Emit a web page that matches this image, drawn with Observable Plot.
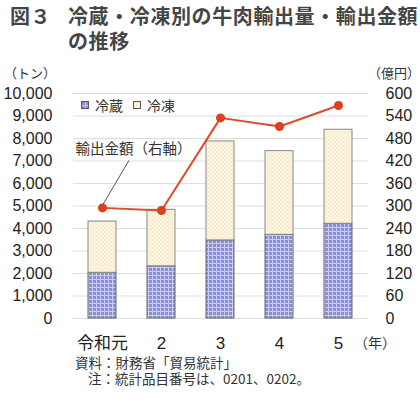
<!DOCTYPE html>
<html><head><meta charset="utf-8">
<script src="https://cdn.jsdelivr.net/npm/d3@7"></script>
<script src="https://cdn.jsdelivr.net/npm/@observablehq/plot@0.6"></script>
<style>
body{margin:0;width:420px;height:399px;overflow:hidden;background:#fff;position:relative;font-family:"Noto Sans CJK JP",sans-serif;color:#333}
.abs{position:absolute;white-space:nowrap}
.tl{font-size:20px;font-weight:bold;line-height:25px;height:25px;color:#454545;letter-spacing:0.6px}
#chart{position:absolute;left:0;top:55px}
.unit{font-size:13px;line-height:14px;color:#333}
#legend{left:81px;top:96px;font-size:14px;line-height:18px;color:#333;display:flex;align-items:center}
#legend svg{margin-right:6px}
.cap{font-size:13.5px;line-height:15px;height:15px;color:#333}
</style></head>
<body>
<svg width="0" height="0" style="position:absolute">
  <defs>
    <pattern id="pChill" width="4" height="4" patternUnits="userSpaceOnUse">
      <rect width="4" height="4" fill="#8b8fd7"/>
      <path d="M0 0.5H4M0.5 0V4" stroke="#c9cbf1" stroke-width="1"/>
    </pattern>
    <pattern id="pFroz" width="4" height="4" patternUnits="userSpaceOnUse">
      <rect width="4" height="4" fill="#fdf5de"/>
      <circle cx="1" cy="1" r="0.6" fill="#e6d2a4"/>
      <circle cx="3" cy="3" r="0.6" fill="#e6d2a4"/>
    </pattern>
  </defs>
</svg>
<div class="abs tl" style="left:10px;top:3px">図３</div>
<div class="abs tl" style="left:68px;top:3px">冷蔵・冷凍別の牛肉輸出量・輸出金額</div>
<div class="abs tl" style="left:68px;top:28px">の推移</div>
<div class="abs unit" style="left:4px;top:66px">（トン）</div>
<div class="abs unit" style="left:368px;top:66px">（億円）</div>
<div id="chart"></div>
<div class="abs unit" style="left:354px;top:335px;font-size:14px">（年）</div>
<div id="legend" class="abs">
  <svg width="8" height="8"><rect x="0.5" y="0.5" width="7" height="7" fill="url(#pChill)" stroke="#555"/></svg><span style="margin-right:10px">冷蔵</span>
  <svg width="8" height="8"><rect x="0.5" y="0.5" width="7" height="7" fill="url(#pFroz)" stroke="#555"/></svg><span>冷凍</span>
</div>
<div class="abs cap" style="left:75px;top:355px">資料：財務省「貿易統計」</div>
<div class="abs cap" style="left:88px;top:371px">注：統計品目番号は、0201、0202。</div>
<script>
const years = ["令和元", "2", "3", "4", "5"];
const chilled = [2030, 2320, 3470, 3720, 4210];   // 冷蔵 (トン)
const frozen = [2280, 2510, 4400, 3720, 4180];    // 冷凍 (トン)
const exportValue = [295, 288, 535, 512, 568];    // 輸出金額 (億円)
const leftTicks = [0, 1000, 2000, 3000, 4000, 5000, 6000, 7000, 8000, 9000, 10000];
const rightTicks = [0, 60, 120, 180, 240, 300, 360, 420, 480, 540, 600];
const annotation = "輸出金額（右軸）";

const k = leftTicks[leftTicks.length - 1] / rightTicks[rightTicks.length - 1];
const rows = years.map((year, i) => ({
  year, chilled: chilled[i], total: chilled[i] + frozen[i], value: exportValue[i]
}));

const plot = Plot.plot({
  width: 420, height: 300,
  marginLeft: 73, marginRight: 52, marginTop: 38, marginBottom: 37,
  style: {fontFamily: '"Liberation Sans", Arial, "Noto Sans CJK JP", sans-serif', fontSize: "16px", color: "#222", background: "transparent"},
  x: {type: "band", domain: years, paddingInner: 0.52, paddingOuter: 0.26},
  y: {domain: [0, 10000]},
  marks: [
    Plot.gridY(leftTicks, {stroke: "#dedede", strokeOpacity: 1}),
    Plot.axisY(leftTicks, {anchor: "left", tickSize: 0, tickPadding: 21, tickFormat: d3.format(","), label: null, fontSize: 16}),
    Plot.axisY(rightTicks.map(v => v * k), {anchor: "right", tickSize: 0, tickPadding: 17, tickFormat: d => String(Math.round(d / k)), label: null, fontSize: 16}),
    Plot.axisX({tickSize: 0, tickPadding: 18, label: null, fontSize: 17, fontFamily: '"Liberation Sans", Arial, "Noto Sans CJK JP", sans-serif'}),
    Plot.barY(rows, {x: "year", y1: 0, y2: "chilled", fill: "url(#pChill)", stroke: "#666", strokeWidth: 1}),
    Plot.barY(rows, {x: "year", y1: "chilled", y2: "total", fill: "url(#pFroz)", stroke: "#888", strokeWidth: 1}),
    Plot.line(rows, {x: "year", y: d => d.value * k, stroke: "#dc4b2a", strokeWidth: 2}),
    Plot.dot(rows, {x: "year", y: d => d.value * k, r: 4.5, fill: "#dc401c", stroke: "none"}),
    Plot.text([rows[0]], {x: "year", y: d => d.value * k, text: () => annotation, dx: 31, dy: -59, fontSize: 14.5, fontFamily: '"Noto Sans CJK JP", sans-serif', fill: "#333"})
  ]
});
document.getElementById("chart").appendChild(plot);

// leader line from annotation to first point
const xs = plot.scale("x"), ys = plot.scale("y");
const px = xs.apply(rows[0].year) + xs.bandwidth / 2;
const py = ys.apply(rows[0].value * k);
d3.select(plot).append("line")
  .attr("x1", px + 1).attr("y1", py - 3)
  .attr("x2", px + 27).attr("y2", py - 47)
  .attr("stroke", "#555").attr("stroke-width", 1);
</script>
</body></html>
